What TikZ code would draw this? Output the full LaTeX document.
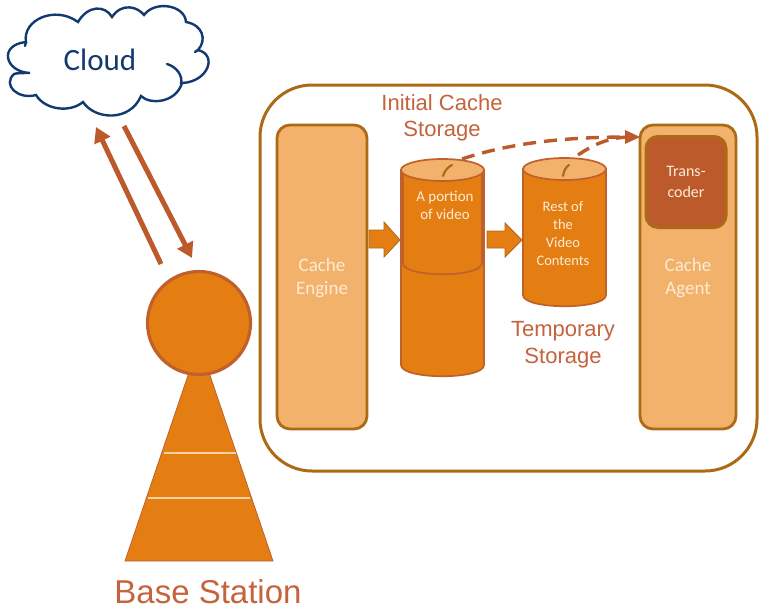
\documentclass[tikz,border=0pt]{standalone}
\usepackage{fontspec}
\setmainfont{Carlito}
\newfontfamily\arialf{Liberation Sans}
\usetikzlibrary{arrows.meta}
\definecolor{orangeM}{HTML}{E57E12}
\definecolor{orangeD}{HTML}{C0602B}
\definecolor{orangeL}{HTML}{F2B26B}
\definecolor{brownB}{HTML}{AD6A14}
\definecolor{rust}{HTML}{BC5A2B}
\definecolor{navy}{HTML}{123A6E}
\definecolor{labelc}{HTML}{C4633C}
\definecolor{softw}{HTML}{FCEBD6}
\tikzset{
  x=1pt,y=-1pt,
  panel/.style={draw=brownB,line width=2.8pt,fill=orangeL,rounded corners=13pt},
  lbl/.style={text=labelc,align=center,font=\arialf\fontsize{22}{26.5}\selectfont},
  wtxt/.style={text=softw,align=center,font=\fontsize{19}{23.5}\selectfont},
  stxt/.style={text=softw,align=center,font=\fontsize{15}{17.5}\selectfont},
  cyl/.style={draw=orangeD,line width=1.7pt,fill=orangeM},
  cyltop/.style={draw=orangeD,line width=1.7pt,fill=orangeL},
  blockarrow/.style={fill=orangeM,draw=brownB,line width=.8pt},
  link/.style={draw=rust,line width=5pt,-{Triangle[length=15pt,width=17pt]}},
  dlink/.style={draw=rust,line width=3.4pt,dash pattern=on 13pt off 8pt},
  rule/.style={draw=white!65!orange,line width=1.2pt},
}
\begin{document}
\begin{tikzpicture}
\useasboundingbox (0,0) rectangle (762,610);
% cloud
\draw[navy,line width=2.4pt,fill=white,line cap=round]
 (30,73) .. controls (5,72) and (-2,45) .. (26,42)
 .. controls (22,20) and (55,5) .. (78,22)
 .. controls (88,5) and (105,5) .. (112,17)
 .. controls (122,2) and (138,7) .. (144,15)
 .. controls (155,0) and (185,5) .. (186,22)
 .. controls (203,25) and (207,40) .. (198,50)
 .. controls (218,55) and (208,82) .. (182,83)
 .. controls (176,103) and (150,105) .. (141,96)
 .. controls (130,122) and (95,120) .. (83,102)
 .. controls (70,113) and (45,110) .. (36,95)
 .. controls (18,100) and (2,85) .. (14,74)
 .. controls (16,73) and (25,73) .. (30,73) -- cycle;
\draw[navy,line width=2.4pt,line cap=round] (167,64) .. controls (177,67) and (183,76) .. (181,84);
\draw[navy,line width=2.4pt,line cap=round] (26,42) -- (25,46);
\draw[navy,line width=2.4pt,line cap=round] (198,50) -- (195,52);
\node[text=navy,font=\fontsize{31}{34}\selectfont] (cloud) at (100,60) {Cloud};
% base station
\fill[orangeM,draw=orangeD,line width=.8pt] (199,343) -- (273,561) -- (125,561) -- cycle;
\draw[rule] (164,453) -- (236,453);
\draw[rule] (148,498) -- (250,498);
\node[circle,draw=orangeD,line width=3.2pt,fill=orangeM,minimum size=103pt,inner sep=0pt] (circ) at (199,323) {};
\node[lbl,font=\arialf\fontsize{33}{36}\selectfont] (bs) at (208,592) {Base Station};
% arrows cloud / base
\coordinate (upS) at (161,264);\coordinate (upE) at (96,127);
\coordinate (dnS) at (124,126);\coordinate (dnE) at (192,258);
\draw[link] (upS) -- (upE);
\draw[link] (dnS) -- (dnE);
% big box
\draw[draw=brownB,line width=3pt,rounded corners=52pt,fill=white] (260,85) rectangle (757,471);
% engine
\node[panel,minimum width=90pt,minimum height=304pt,inner sep=0pt] (engine) at (322,277) {};
\node[wtxt] (enginet) at (322,278) {Cache\\Engine};
% agent
\node[panel,minimum width=96pt,minimum height=304pt,inner sep=0pt] (agent) at (688,277) {};
\node[wtxt] (agentt) at (688,278) {Cache\\Agent};
\node[draw=brownB,line width=3pt,fill=rust,rounded corners=12pt,minimum width=80pt,minimum height=91pt,inner sep=0pt] (trans) at (686,182) {};
\node[stxt,font=\fontsize{16}{21}\selectfont] (transt) at (686,182) {Trans-\\coder};
% first cylinder
\draw[cyl] (401,170) -- (401,365) .. controls (401,380) and (484,380) .. (484,365) -- (484,170) -- cycle;
\draw[cyl] (403,170) -- (403,263) .. controls (403,278) and (482,278) .. (482,263) -- (482,170);
\draw[cyltop] (442.5,170) ellipse[x radius=41.5pt,y radius=11pt];
\draw[brownB,line width=2.2pt,line cap=round] (443,176) .. controls (445,170) and (448,167) .. (452,165);
\node[stxt] (portion) at (445,205.5) {A portion\\of video};
% second cylinder
\draw[cyl] (523,169) -- (523,295) .. controls (523,310) and (606,310) .. (606,295) -- (606,169) -- cycle;
\draw[cyltop] (564.5,169) ellipse[x radius=41.5pt,y radius=11pt];
\draw[brownB,line width=2.2pt,line cap=round] (563,176) .. controls (564,170) and (566,167) .. (569,165);
\node[stxt,font=\fontsize{14.5}{18}\selectfont] (rest) at (563,234) {Rest of\\the\\Video\\Contents};
% block arrows
\draw[blockarrow] (369,230) -- (384,230) -- (384,222) -- (400,240) -- (384,257) -- (384,248) -- (369,248) -- cycle;
\draw[blockarrow] (487,231) -- (505,231) -- (505,223) -- (522,240) -- (505,257) -- (505,248) -- (487,248) -- cycle;
% dashed arrows
\coordinate (d1) at (462,159);\coordinate (d2) at (578,155);\coordinate (dE) at (640,137);
\draw[dlink] (d1) .. controls (510,143) and (565,137) .. (628,137);
\draw[dlink] (d2) .. controls (590,147) and (605,138) .. (628,137);
\fill[rust] (dE) -- (625,130) -- (625,144) -- cycle;
% labels
\node[lbl] (ics) at (442,118) {Initial Cache\\Storage};
\node[lbl] (ts) at (563,344.5) {Temporary\\Storage};
\end{tikzpicture}
\end{document}
